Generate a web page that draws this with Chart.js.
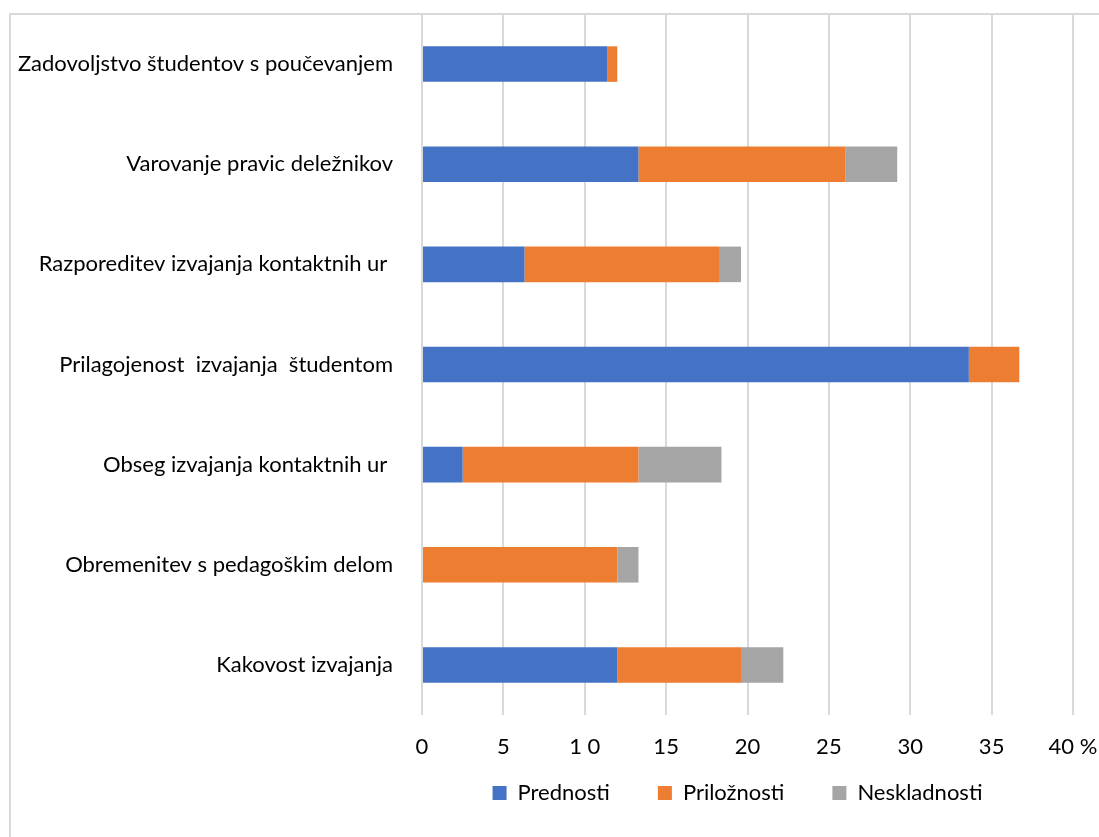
<!DOCTYPE html>
<html>
<head>
<meta charset="utf-8">
<script src="https://cdn.jsdelivr.net/npm/chart.js@4.4.1/dist/chart.umd.min.js"></script>
<style>
  html, body { margin: 0; padding: 0; background: #fff; }
  #frame { position: absolute; left: 9px; top: 13px; width: 1200px; height: 900px;
           border-top: 2px solid #d9d9d9; border-left: 2px solid #d9d9d9; }
  #wrap { position: absolute; left: 0; top: 0; width: 1099px; height: 837px; }
</style>
</head>
<body>
<div id="frame"></div>
<div id="wrap"><canvas id="chart"></canvas></div>
<script>
const categories = [
  'Zadovoljstvo študentov s poučevanjem',
  'Varovanje pravic deležnikov',
  'Razporeditev izvajanja kontaktnih ur ',
  'Prilagojenost  izvajanja  študentom',
  'Obseg izvajanja kontaktnih ur ',
  'Obremenitev s pedagoškim delom',
  'Kakovost izvajanja'
];
const prednosti    = [11.4, 13.3, 6.3, 33.6, 2.5, 0, 12.0];
const priloznosti  = [0.6, 12.7, 12.0, 3.1, 10.8, 12.0, 7.6];
const neskladnosti = [0, 3.2, 1.3, 0, 5.1, 1.3, 2.6];
const xTickLabels = ['0', '5', '1 0', '15', '20', '25', '30', '35', '40 %'];

const font = 'Lato, "Open Sans", sans-serif';

// legend sits closer to the axis labels than chart.js would put it
const legendShift = {
  id: 'legendShift',
  afterLayout(chart) {
    const lg = chart.legend;
    lg.top -= 27;
    lg.bottom -= 27;
    lg.left -= 10;
    lg.right -= 10;
  }
};

const ctx = document.getElementById('chart').getContext('2d');
const chart = new Chart(ctx, {
  type: 'bar',
  data: {
    labels: categories,
    datasets: [
      { label: 'Prednosti', data: prednosti, backgroundColor: '#4472C4' },
      { label: 'Priložnosti', data: priloznosti, backgroundColor: '#ED7D31' },
      { label: 'Neskladnosti', data: neskladnosti, backgroundColor: '#A5A5A5' }
    ]
  },
  options: {
    indexAxis: 'y',
    responsive: true,
    maintainAspectRatio: false,
    animation: false,
    categoryPercentage: 1,
    barPercentage: 0.355,
    layout: { padding: { top: 14, right: 26, left: 0, bottom: 6 } },
    scales: {
      x: {
        stacked: true,
        min: 0,
        max: 40,
        ticks: {
          stepSize: 5,
          color: '#000',
          padding: 19,
          font: { family: font, size: 22 },
          callback: (v, i) => xTickLabels[i]
        },
        grid: { color: '#d9d9d9', lineWidth: 2, drawTicks: false },
        border: { display: false },
        afterFit: s => { s.height = 46; s.paddingLeft = 0; s.paddingRight = 0; }
      },
      y: {
        stacked: true,
        ticks: {
          color: '#000',
          padding: 29,
          font: { family: font, size: 22 }
        },
        grid: { display: false, drawTicks: false },
        border: { display: false },
        afterFit: s => { s.width = 422; s.paddingTop = 0; s.paddingBottom = 0; }
      }
    },
    plugins: {
      legend: {
        position: 'bottom',
        fullSize: false,
        align: 'center',
        maxHeight: 70,
        labels: {
          boxWidth: 14,
          boxHeight: 14,
          padding: 48,
          color: '#000',
          font: { family: font, size: 22 }
        }
      },
      tooltip: { enabled: false }
    }
  },
  plugins: [legendShift]
});
</script>
</body>
</html>
